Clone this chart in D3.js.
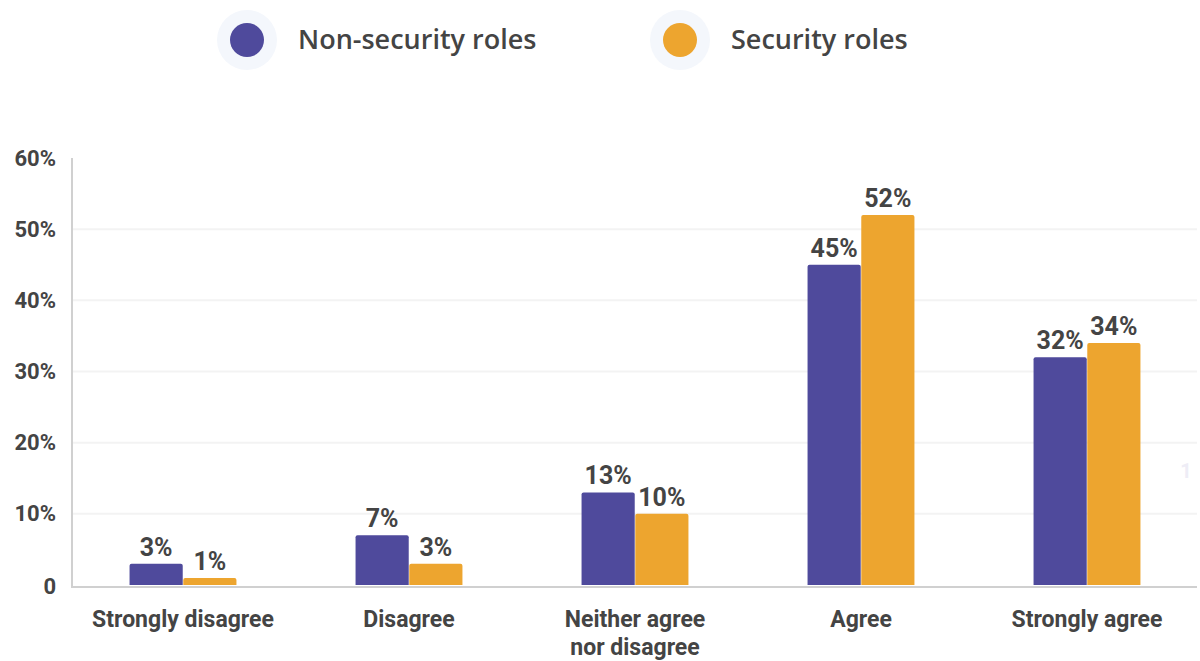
<!DOCTYPE html>
<html>
<head>
<meta charset="utf-8">
<script src="https://cdn.jsdelivr.net/npm/d3@7"></script>
<style>
  html, body { margin: 0; padding: 0; background: #ffffff; }
  svg { display: block; }
</style>
</head>
<body>
<svg id="chart" width="1200" height="661"></svg>
<script>
// Survey answers by role group
const categories = ["Strongly disagree", "Disagree", "Neither agree\nnor disagree", "Agree", "Strongly agree"];
const seriesNames = ["Non-security roles", "Security roles"];
const nonSecurity = [3, 7, 13, 45, 32];
const security = [1, 3, 10, 52, 34];
const yTicks = [0, 10, 20, 30, 40, 50, 60];
const colors = ["#4f4a9c", "#eda52f"];

const svg = d3.select("#chart");
const W = 1200, H = 661;
const margin = { left: 72, right: 0, top: 158, bottom: 76 };
const baseY = H - margin.bottom; // 585

const x0 = d3.scaleBand().domain(categories).range([70, W - margin.right]);
const groupW = x0.bandwidth() * 0.473;
const x1 = d3.scaleBand().domain(seriesNames).range([0, groupW]).paddingInner(0.01);
const y = d3.scaleLinear().domain([0, 60]).range([baseY, margin.top]);

const textColor = "#444444";

// Horizontal gridlines
svg.append("g").selectAll("line")
  .data(yTicks.filter(t => t > 0 && t < 60))
  .join("line")
  .attr("x1", margin.left).attr("x2", W - 3)
  .attr("y1", d => y(d)).attr("y2", d => y(d))
  .attr("stroke", "#f3f3f3").attr("stroke-width", 2);

// Y axis labels
const yAxis = d3.axisLeft(y).tickValues(yTicks)
  .tickFormat(d => d === 0 ? "0" : d + "%").tickSize(0).tickPadding(16);
const yg = svg.append("g").attr("transform", `translate(${margin.left},0)`).call(yAxis);
yg.select(".domain").remove();
yg.selectAll("text")
  .attr("fill", textColor)
  .style("font-family", "Roboto, sans-serif")
  .style("font-weight", "700")
  .style("font-size", "22px");
yg.selectAll(".tick").filter(d => d === 0).attr("transform", `translate(0,${baseY + 2})`);

// Axis lines
svg.append("line")
  .attr("x1", margin.left).attr("x2", margin.left)
  .attr("y1", margin.top).attr("y2", baseY + 2)
  .attr("stroke", "#d0d0d0").attr("stroke-width", 2);
svg.append("line")
  .attr("x1", margin.left - 1).attr("x2", W - 3)
  .attr("y1", baseY + 2).attr("y2", baseY + 2)
  .attr("stroke", "#d0d0d0").attr("stroke-width", 2);

// Bars
const rows = categories.map((c, i) => ({
  cat: c,
  vals: [
    { s: seriesNames[0], v: nonSecurity[i], c: colors[0] },
    { s: seriesNames[1], v: security[i], c: colors[1] }
  ]
}));

const groups = svg.append("g").selectAll("g")
  .data(rows).join("g")
  .attr("transform", d => `translate(${x0(d.cat) + (x0.bandwidth() - groupW) / 2},0)`);

groups.selectAll("path")
  .data(d => d.vals).join("path")
  .attr("fill", d => d.c)
  .attr("d", d => {
    const bx = x1(d.s), bw = x1.bandwidth(), top = y(d.v), r = 2;
    return `M${bx},${baseY} L${bx},${top + r} Q${bx},${top} ${bx + r},${top} ` +
      `L${bx + bw - r},${top} Q${bx + bw},${top} ${bx + bw},${top + r} L${bx + bw},${baseY} Z`;
  });

// Value labels
groups.selectAll("text")
  .data(d => d.vals).join("text")
  .attr("x", d => x1(d.s) + x1.bandwidth() / 2)
  .attr("y", d => y(d.v) - 8)
  .attr("text-anchor", "middle")
  .attr("fill", textColor)
  .style("font-family", "Roboto, sans-serif")
  .style("font-weight", "700")
  .style("font-size", "25px")
  .text(d => d.v + "%");

// Category labels
const xg = svg.append("g");
categories.forEach(c => {
  const cx = x0(c) + x0.bandwidth() / 2;
  const t = xg.append("text")
    .attr("x", cx)
    .attr("y", 627)
    .attr("text-anchor", "middle")
    .attr("fill", textColor)
    .style("font-family", "Roboto, sans-serif")
    .style("font-weight", "700")
    .style("font-size", "23px");
  c.split("\n").forEach((line, k) => {
    t.append("tspan").attr("x", cx).attr("dy", k === 0 ? 0 : 28).text(line);
  });
});

// Legend
const legendX = [247, 680];
const legend = svg.append("g").selectAll("g")
  .data(seriesNames).join("g")
  .attr("transform", (d, i) => `translate(${legendX[i]},40)`);
legend.append("circle").attr("r", 30).attr("fill", "#f4f7fc");
legend.append("circle").attr("r", 17).attr("fill", (d, i) => colors[i]);
legend.append("text")
  .attr("x", 51).attr("y", 0).attr("dy", "0.35em")
  .attr("fill", textColor)
  .style("font-family", "'Open Sans', sans-serif")
  .style("font-weight", "600")
  .style("font-size", "27px")
  .text(d => d);

// Faint stray marker at the right edge
svg.append("text")
  .attr("x", 1186).attr("y", 478)
  .attr("text-anchor", "middle")
  .attr("fill", "#eeedf6")
  .style("font-family", "Roboto, sans-serif")
  .style("font-weight", "700")
  .style("font-size", "20px")
  .text("1");
</script>
</body>
</html>
